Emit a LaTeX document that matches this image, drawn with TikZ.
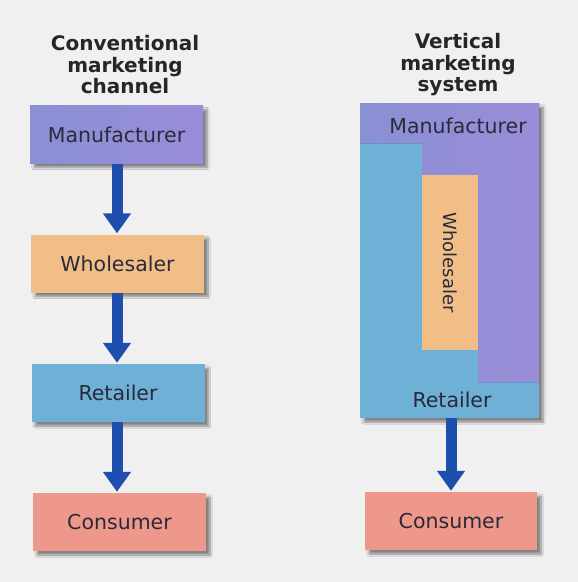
\documentclass[tikz,border=0pt]{standalone}
\usepackage{fontspec}
\setmainfont{DejaVu Sans}
\usetikzlibrary{shadows.blur,arrows.meta}
\definecolor{bg}{HTML}{F0F0F0}
\definecolor{mfrL}{HTML}{8A90D4}
\definecolor{mfrR}{HTML}{9A8CD8}
\definecolor{whl}{HTML}{F0BE86}
\definecolor{ret}{HTML}{6EB0D6}
\definecolor{con}{HTML}{EE978B}
\definecolor{arr}{HTML}{1F4FAE}
\definecolor{ink}{HTML}{2A2A3A}
\begin{document}
\begin{tikzpicture}[x=1pt,y=-1pt,
  shade/.style={blur shadow={shadow xshift=4pt,shadow yshift=-4pt,shadow blur steps=8,shadow opacity=45}},
  stage/.style={draw=none,minimum width=173pt,minimum height=58pt,inner sep=0pt,
    font=\fontsize{20.5}{24}\selectfont,text=ink,shade},
  heading/.style={font=\bfseries\fontsize{20}{21.5}\selectfont,align=center,text=black!85},
  label/.style={font=\fontsize{20.5}{24}\selectfont,text=ink,inner sep=0pt},
  flow/.style={draw=arr,line width=11pt,-{Triangle[width=27pt,length=20pt]},shorten >=1pt}]
% background
\fill[bg] (0,0) rectangle (578,582);

% conventional channel
\node[heading] (t1) at (125,65) {Conventional\\marketing\\channel};
\node[stage,left color=mfrL,right color=mfrR] (m1) at (116.5,134.5) {Manufacturer};
\node[stage,fill=whl] (w1) at (117.5,263.5) {Wholesaler};
\node[stage,fill=ret] (r1) at (118,393) {Retailer};
\node[stage,fill=con] (c1) at (119.5,522) {Consumer};
\coordinate (ax) at (117,0);
\draw[flow] (m1.south -| ax) -- (w1.north -| ax);
\draw[flow] (w1.south -| ax) -- (r1.north -| ax);
\draw[flow] (r1.south -| ax) -- (c1.north -| ax);

% vertical marketing system
\node[heading] (t2) at (458,65) {Vertical\\marketing\\system};
\node[draw=none,fill=ret,minimum width=179pt,minimum height=315pt,inner sep=0pt,shade] (vms) at (449.5,260.5) {};
\fill[left color=mfrL,right color=mfrR]
  (360,103) -- (539,103) -- (539,382) -- (478,382) -- (478,175) -- (422,175) -- (422,143) -- (360,143) -- cycle;
\node[draw=none,fill=whl,minimum width=56pt,minimum height=175pt,inner sep=0pt] (w2) at (450,262.5) {};
\node[label,rotate=-90,font=\fontsize{18}{20}\selectfont] at (w2.center) {Wholesaler};
\node[label] (m2l) at (458,126) {Manufacturer};
\node[label] (r2l) at (452,400) {Retailer};
\node[stage,fill=con,minimum width=172pt] (c2) at (451,521) {Consumer};
\draw[flow] (vms.south -| c2.north) -- (c2.north);
\end{tikzpicture}
\end{document}
